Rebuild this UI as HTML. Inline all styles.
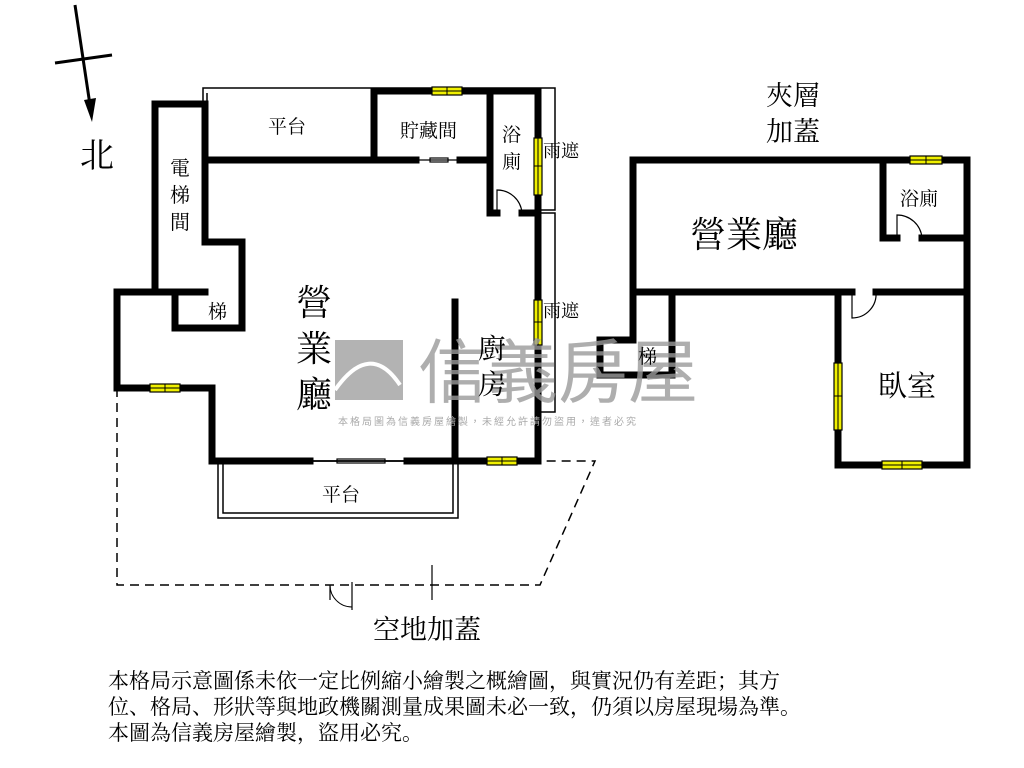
<!DOCTYPE html>
<html><head><meta charset="utf-8"><style>
body{margin:0;background:#fff;width:1024px;height:768px;overflow:hidden;position:relative;font-family:"Liberation Serif","Noto Serif CJK SC",serif}
svg{position:absolute;left:0;top:0}
.t{position:absolute;color:#000;white-space:nowrap}
.note{position:absolute;left:108px;top:668px;font-size:21px;line-height:26px;color:#000}
</style></head><body>
<svg width="1024" height="768" viewBox="0 0 1024 768">
<g fill="none" stroke="#000" stroke-width="1.5">
<polyline points="203,102 203,88 540,88"/><polyline points="207,102 207,93"/>
<polyline points="540,88 555,88 555,210 540,210"/>
<polyline points="540,213 555,213 555,412 540,412"/>
<rect x="218" y="461" width="240" height="57"/><rect x="223" y="461" width="230" height="52"/>
</g>
<g fill="none" stroke="#000" stroke-width="1.5" stroke-dasharray="9,6">
<polyline points="117,388 117,585 540,585 595,461 538,461"/>
</g>
<g stroke="#000" stroke-width="1.2"><line x1="432" y1="565" x2="432" y2="600"/><line x1="352" y1="582" x2="352" y2="610"/><line x1="330" y1="585" x2="330" y2="600"/></g>
<path d="M330,585 A22,22 0 0 0 352,607" fill="none" stroke="#000" stroke-width="1"/>
<g fill="none" stroke="#000" stroke-width="7" stroke-linecap="square">
<polyline points="205,292 155,292 155,104 205,104 205,242 242,242 242,328 175,328 175,292"/>
<polyline points="205,104 205,160 416,160"/><polyline points="460,160 490,160"/>
<polyline points="374,91 374,160"/><polyline points="374,91 538,91 538,461 407,461"/>
<polyline points="490,91 490,213 497,213"/><line x1="522" y1="213" x2="538" y2="213"/>
<polyline points="205,292 117,292 117,388 212,388 212,461 310,461"/>
<line x1="455" y1="302" x2="455" y2="461"/>
<polyline points="633,292 633,160 967,160 967,465 838,465 838,292"/>
<polyline points="883,160 883,238 897,238"/><line x1="922" y1="238" x2="967" y2="238"/>
<polyline points="633,292 852,292"/><line x1="876" y1="292" x2="967" y2="292"/>
<polyline points="672,292 672,375 600,375 600,340 633,340 633,292"/>
</g>
<g fill="none" stroke="#000" stroke-width="1.2">
<path d="M497,213 L497,190 A25,25 0 0 1 522,213"/>
<path d="M897,238 L897,215 A25,25 0 0 1 922,238"/>
<path d="M852,292 L852,318 A24,24 0 0 0 876,292"/>
<line x1="416" y1="160" x2="460" y2="160"/><rect x="430" y="158" width="18" height="4"/>
<line x1="310" y1="461" x2="407" y2="461"/><rect x="337" y="459" width="48" height="4"/>
</g>
<g fill="#f0f000" stroke="#000" stroke-width="1.2">
<rect x="432" y="87" width="30" height="8"/><rect x="534" y="138" width="8" height="57"/>
<rect x="534" y="300" width="8" height="45"/><rect x="150" y="384" width="30" height="8"/>
<rect x="487" y="457" width="30" height="8"/><rect x="910" y="156" width="32" height="8"/>
<rect x="834" y="363" width="8" height="67"/><rect x="882" y="461" width="40" height="8"/>
</g>
<g stroke="#000" stroke-width="1"><line x1="447" y1="87" x2="447" y2="95"/><line x1="534" y1="166" x2="542" y2="166"/><line x1="534" y1="322" x2="542" y2="322"/><line x1="165" y1="384" x2="165" y2="392"/><line x1="502" y1="457" x2="502" y2="465"/><line x1="926" y1="156" x2="926" y2="164"/><line x1="834" y1="396" x2="842" y2="396"/><line x1="902" y1="461" x2="902" y2="469"/>
<line x1="432" y1="91" x2="462" y2="91"/><line x1="538" y1="138" x2="538" y2="195"/><line x1="538" y1="300" x2="538" y2="345"/><line x1="150" y1="388" x2="180" y2="388"/><line x1="487" y1="461" x2="517" y2="461"/><line x1="910" y1="160" x2="942" y2="160"/><line x1="838" y1="363" x2="838" y2="430"/><line x1="882" y1="465" x2="922" y2="465"/></g>
<g stroke="#000" stroke-width="3"><line x1="75" y1="5" x2="90" y2="105"/><line x1="55" y1="63" x2="112" y2="55"/></g>
<polygon points="84,100 96,98 92,122" fill="#000"/>
<rect x="335" y="340" width="68" height="60" fill="#999" opacity="0.75"/>
<path d="M335,390 Q370,340 400,385" fill="none" stroke="#fff" stroke-width="4"/>
<text x="418" y="397" font-family="Liberation Sans,Noto Sans CJK TC,sans-serif" font-size="70" fill="#9a9a9a" opacity="0.8">信義房屋</text>
<text x="338" y="425" font-family="Liberation Sans,Noto Sans CJK TC,sans-serif" font-size="10" fill="#aaa" letter-spacing="2">本格局圖為信義房屋繪製，未經允許請勿盜用，違者必究</text>
</svg>
<div class="t" style="left:80px;top:128px;font-size:34px">北</div>
<div class="t" style="left:268px;top:112px;font-size:19px">平台</div>
<div class="t" style="left:400px;top:116px;font-size:19px">貯藏間</div>
<div class="t" style="left:502px;top:122px;font-size:19px;line-height:27px;width:20px;white-space:normal">浴廁</div>
<div class="t" style="left:543px;top:137px;font-size:18px">雨遮</div>
<div class="t" style="left:543px;top:297px;font-size:18px">雨遮</div>
<div class="t" style="left:170px;top:156px;font-size:20px;line-height:27px;width:22px;white-space:normal">電梯間</div>
<div class="t" style="left:208px;top:297px;font-size:19px">梯</div>
<div class="t" style="left:296px;top:280px;font-size:36px;line-height:46px;width:38px;white-space:normal">營業廳</div>
<div class="t" style="left:478px;top:332px;font-size:28px;line-height:36px;width:30px;white-space:normal">廚房</div>
<div class="t" style="left:322px;top:480px;font-size:19px">平台</div>
<div class="t" style="left:373px;top:608px;font-size:27px">空地加蓋</div>
<div class="t" style="left:766px;top:78px;font-size:27px;line-height:36px">夾層<br>加蓋</div>
<div class="t" style="left:690px;top:207px;font-size:36px">營業廳</div>
<div class="t" style="left:900px;top:184px;font-size:19px">浴廁</div>
<div class="t" style="left:638px;top:342px;font-size:19px">梯</div>
<div class="t" style="left:878px;top:364px;font-size:29px">臥室</div>
<div class="note">本格局示意圖係未依一定比例縮小繪製之概繪圖，與實況仍有差距；其方<br>位、格局、形狀等與地政機關測量成果圖未必一致，仍須以房屋現場為準。<br>本圖為信義房屋繪製，盜用必究。</div>
</body></html>
